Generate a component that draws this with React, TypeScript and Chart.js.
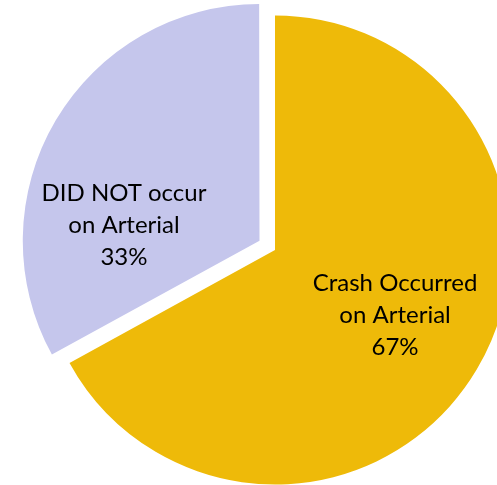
import React, { useEffect, useRef } from "react";
import { Chart, registerables } from "chart.js";

Chart.register(...registerables);

const categories = ["Crash Occurred on Arterial", "DID NOT occur on Arterial"];
const labelLines = [["Crash Occurred", "on Arterial"], ["DID NOT occur", "on Arterial"]];
const values = [67, 33];
const colors = ["#EEBA09", "#C5C6EC"];
const offsets = [0, 72];
// label anchor relative to pie centre, as fraction of radius
const labelAnchorX = [0.512, -0.644];
const labelAnchorY = [0.277, -0.107];

const labelPlugin = {
  id: "sliceLabels",
  afterDatasetsDraw(chart: any) {
    const ctx = chart.ctx;
    const meta = chart.getDatasetMeta(0);
    const total = values.reduce((a, b) => a + b, 0);
    ctx.save();
    ctx.font = "24px Lato";
    ctx.fillStyle = "#000";
    ctx.textAlign = "center";
    ctx.textBaseline = "middle";
    meta.data.forEach((arc: any, i: number) => {
      const r = arc.outerRadius;
      const cx = arc.x + labelAnchorX[i] * r;
      const cy = arc.y + labelAnchorY[i] * r;
      const lines = [...labelLines[i], Math.round((values[i] / total) * 100) + "%"];
      const lh = 32;
      lines.forEach((t, k) => {
        ctx.fillText(t, cx, cy + (k - 1) * lh);
      });
    });
    ctx.restore();
  },
};

export default function App() {
  const ref = useRef<HTMLCanvasElement>(null);
  useEffect(() => {
    if (!ref.current) return;
    const chart = new Chart(ref.current, {
      type: "pie",
      data: {
        labels: categories,
        datasets: [
          {
            data: values,
            backgroundColor: colors,
            borderWidth: 0,
            offset: offsets,
          } as any,
        ],
      },
      options: {
        responsive: false,
        animation: false,
        devicePixelRatio: 1,
        events: [],
        radius: 234.5,
        layout: { padding: 0 },
        plugins: { legend: { display: false }, tooltip: { enabled: false } },
      } as any,
      plugins: [labelPlugin],
    });
    return () => chart.destroy();
  }, []);
  return (
    <div
      style={{
        position: "absolute",
        left: 0,
        top: 0,
        width: 497,
        height: 485,
        overflow: "hidden",
        background: "#fff",
      }}
    >
      <canvas ref={ref} width={550} height={500} style={{ width: 550, height: 500, display: "block" }} />
    </div>
  );
}
